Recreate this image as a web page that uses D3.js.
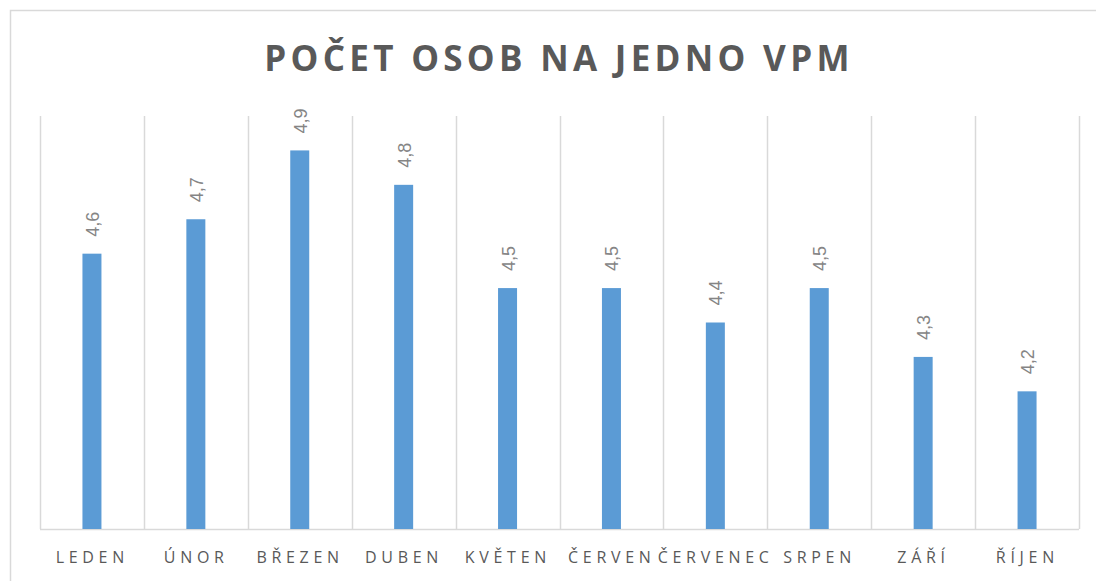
<!DOCTYPE html>
<html>
<head>
<meta charset="utf-8">
<script src="https://cdn.jsdelivr.net/npm/d3@7"></script>
<style>
  body { margin: 0; background: #fff; }
  svg { display: block; }
</style>
</head>
<body>
<div id="chart"></div>
<script>
// chart data
var months = ["LEDEN", "ÚNOR", "BŘEZEN", "DUBEN", "KVĚTEN", "ČERVEN", "ČERVENEC", "SRPEN", "ZÁŘÍ", "ŘÍJEN"];
var values = [4.6, 4.7, 4.9, 4.8, 4.5, 4.5, 4.4, 4.5, 4.3, 4.2];
var yDomain = [3.8, 5.0];
var title = "POČET OSOB NA JEDNO VPM";

var width = 1096, height = 581;
var margin = { left: 40, right: 17, top: 116, bottom: 52 };
var labelSpacing = 4.7;

var svg = d3.select("#chart").append("svg")
       .attr("width", width)
       .attr("height", height);

// outer chart frame (runs off right/bottom edge)
svg.append("rect")
       .attr("x", 10.5).attr("y", 10.5)
       .attr("width", width + 20).attr("height", height + 20)
       .attr("fill", "none")
       .attr("stroke", "#d9d9d9")
       .attr("stroke-width", 1.5);

var x = d3.scaleBand()
       .domain(months)
       .range([margin.left, width - margin.right])
       .paddingInner(0)
       .paddingOuter(0);

var y = d3.scaleLinear()
       .domain(yDomain)
       .range([height - margin.bottom, margin.top]);

// vertical gridlines at category boundaries
var bounds = months.map(function (m) { return x(m); }).concat([x.range()[1]]);
svg.append("g")
       .selectAll("line")
       .data(bounds)
       .enter()
       .append("line")
       .attr("x1", function (d) { return Math.round(d) + 0.5; })
       .attr("x2", function (d) { return Math.round(d) + 0.5; })
       .attr("y1", y(yDomain[1]))
       .attr("y2", y(yDomain[0]))
       .attr("stroke", "#d9d9d9")
       .attr("stroke-width", 1.5);

// baseline
svg.append("line")
       .attr("x1", x.range()[0]).attr("x2", x.range()[1])
       .attr("y1", y(yDomain[0]) + 0.5).attr("y2", y(yDomain[0]) + 0.5)
       .attr("stroke", "#d9d9d9")
       .attr("stroke-width", 1.5);

var barW = 19;
svg.append("g")
       .selectAll("rect")
       .data(values)
       .enter()
       .append("rect")
       .attr("x", function (d, i) { return x(months[i]) + x.bandwidth() / 2 - barW / 2; })
       .attr("y", function (d) { return y(d); })
       .attr("width", barW)
       .attr("height", function (d) { return y(yDomain[0]) - y(d); })
       .attr("fill", "#5b9bd5");

// data labels, rotated
var fmt = function (d) { return d3.format(".1f")(d).replace(".", ","); };
svg.append("g")
       .selectAll("text")
       .data(values)
       .enter()
       .append("text")
       .attr("transform", function (d, i) {
              return "translate(" + (x(months[i]) + x.bandwidth() / 2 + 7) + "," + (y(d) - 17) + ") rotate(-90)";
       })
       .attr("text-anchor", "start")
       .style("font-family", "'Liberation Sans', Arial, sans-serif")
       .style("font-size", "18px")
       .style("fill", "#858585")
       .text(fmt);

// category labels (shift by half the trailing letter gap)
svg.append("g")
       .selectAll("text")
       .data(months)
       .enter()
       .append("text")
       .attr("x", function (d) { return x(d) + x.bandwidth() / 2 + labelSpacing / 2 - 2; })
       .attr("y", 563)
       .attr("text-anchor", "middle")
       .style("font-family", "'Open Sans', sans-serif")
       .style("font-size", "16px")
       .style("letter-spacing", labelSpacing + "px")
       .style("fill", "#595959")
       .text(function (d) { return d; });

// title
svg.append("text")
       .attr("x", 559)
       .attr("y", 71)
       .attr("text-anchor", "middle")
       .style("font-family", "'Open Sans', sans-serif")
       .style("font-weight", "bold")
       .style("font-size", "35px")
       .style("letter-spacing", "4.3px")
       .style("fill", "#595959")
       .text(title);
</script>
</body>
</html>
